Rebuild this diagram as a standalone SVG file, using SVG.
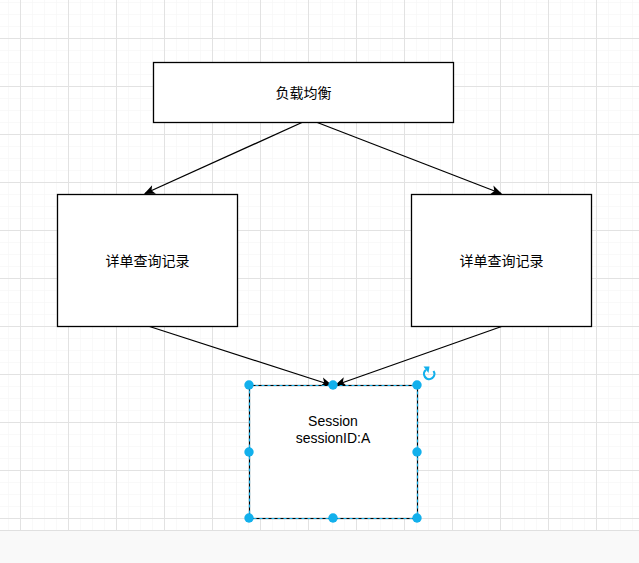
<svg xmlns="http://www.w3.org/2000/svg" width="639" height="563" viewBox="0 0 639 563">
<defs>
<pattern id="minor" x="8" y="2" width="12" height="12" patternUnits="userSpaceOnUse">
<path d="M0 0H12M0 0V12" fill="none" stroke="#f3f3f3" stroke-width="1"/>
</pattern>
<pattern id="major" x="20" y="38" width="48" height="48" patternUnits="userSpaceOnUse">
<path d="M0 0.5H48M0.5 0V48" fill="none" stroke="#e2e2e2" stroke-width="1"/>
</pattern>
<marker id="arr" viewBox="0 0 10 10" refX="9" refY="5" markerWidth="11" markerHeight="11" markerUnits="userSpaceOnUse" orient="auto">
<path d="M0 0.8L10 5L0 9.2L2.5 5Z" fill="#000"/>
</marker>
</defs>
<style>
.box{fill:#fff;stroke:#000;stroke-width:1.3}
.lbl{font-family:"Liberation Sans","Noto Sans CJK SC",sans-serif;font-size:14px;fill:#000;text-anchor:middle}
.edge{fill:none;stroke:#000;stroke-width:1.3;marker-end:url(#arr)}
.h{fill:#12b0ec}
</style>
<rect width="639" height="563" fill="#fff"/>
<rect width="639" height="530" fill="url(#minor)"/>
<rect width="639" height="530" fill="url(#major)"/>
<rect x="0" y="530" width="639" height="33" fill="#f9f9f9"/>
<line x1="0" y1="530.5" x2="639" y2="530.5" stroke="#e0e0e0"/>
<g id="edges">
<path class="edge" d="M303 122L145 193.5"/>
<path class="edge" d="M316 122L501 193.5"/>
<path class="edge" d="M148 326L331 385"/>
<path class="edge" d="M503 326L336 385"/>
</g>
<g id="lb">
<rect class="box" x="153.5" y="62.5" width="300" height="60"/>
<text class="lbl" x="303.5" y="97.5">负载均衡</text>
</g>
<g id="d1">
<rect class="box" x="57.5" y="194.5" width="180" height="132"/>
<text class="lbl" x="147.5" y="265.5">详单查询记录</text>
</g>
<g id="d2">
<rect class="box" x="411.5" y="194.5" width="180" height="132"/>
<text class="lbl" x="501.5" y="265.5">详单查询记录</text>
</g>
<g id="session">
<rect x="249.5" y="385.5" width="168" height="133" fill="#fff" stroke="#000" stroke-width="1.2"/>
<rect x="249.5" y="385.5" width="168" height="133" fill="none" stroke="#12b0ec" stroke-width="1.2" stroke-dasharray="3 3"/>
<text class="lbl" x="333" y="425.5">Session</text>
<text class="lbl" x="333" y="443">sessionID:A</text>
<circle class="h" cx="249" cy="385" r="4.7"/>
<circle class="h" cx="333" cy="385" r="4.7"/>
<circle class="h" cx="417" cy="385" r="4.7"/>
<circle class="h" cx="249" cy="452" r="4.7"/>
<circle class="h" cx="417" cy="452" r="4.7"/>
<circle class="h" cx="249" cy="518" r="4.7"/>
<circle class="h" cx="333" cy="518" r="4.7"/>
<circle class="h" cx="417" cy="518" r="4.7"/>
<path d="M433.5 371A5.2 5.2 0 1 1 426 369.8" fill="none" stroke="#12b0ec" stroke-width="2.2"/>
<path d="M423.5 366.5L429.5 366.5L428.5 373Z" fill="#12b0ec"/>
</g>
</svg>
